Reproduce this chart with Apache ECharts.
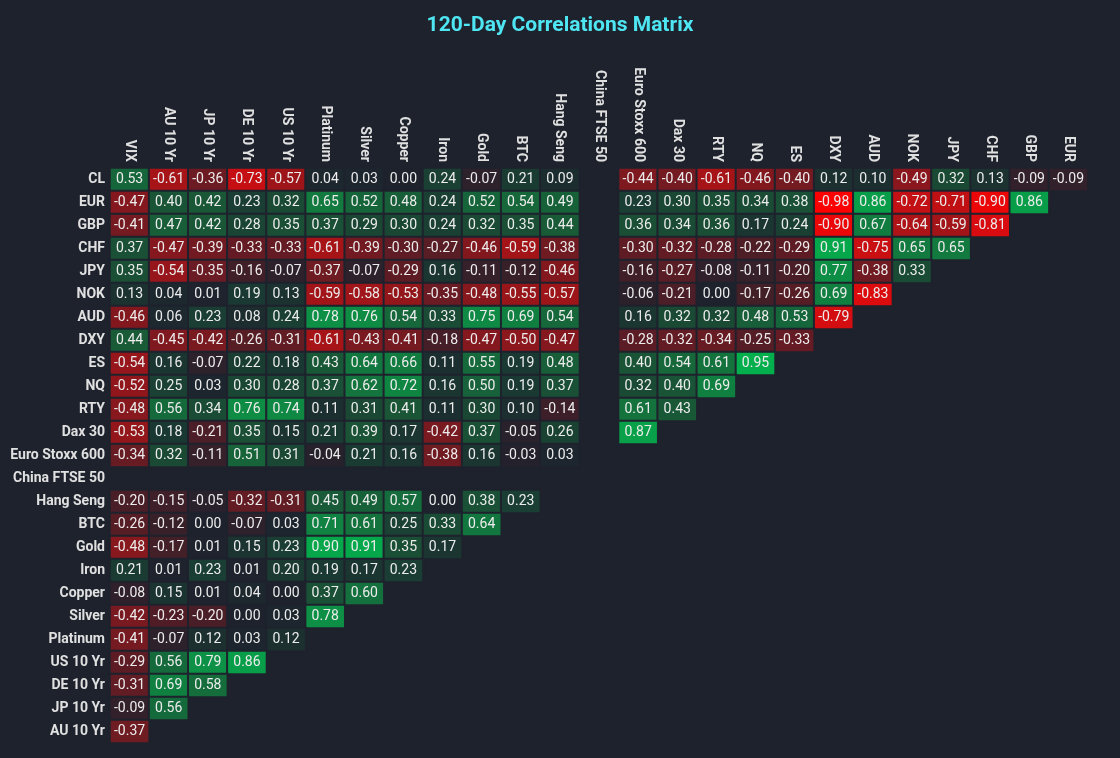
<!DOCTYPE html>
<html>
<head>
<meta charset="utf-8">
<title>120-Day Correlations Matrix</title>
<script src="https://cdn.jsdelivr.net/npm/echarts@6/dist/echarts.min.js"></script>
<style>
  html, body { margin: 0; padding: 0; background: #1e222d; }
  #chart { width: 1120px; height: 758px; }
</style>
</head>
<body>
<div id="chart"></div>
<script>
// columns, left to right
const columns = ['VIX', 'AU 10 Yr', 'JP 10 Yr', 'DE 10 Yr', 'US 10 Yr', 'Platinum', 'Silver',
  'Copper', 'Iron', 'Gold', 'BTC', 'Hang Seng', 'China FTSE 50', 'Euro Stoxx 600', 'Dax 30',
  'RTY', 'NQ', 'ES', 'DXY', 'AUD', 'NOK', 'JPY', 'CHF', 'GBP', 'EUR'];

// rows, top to bottom
const rows = ['CL', 'EUR', 'GBP', 'CHF', 'JPY', 'NOK', 'AUD', 'DXY', 'ES', 'NQ', 'RTY', 'Dax 30',
  'Euro Stoxx 600', 'China FTSE 50', 'Hang Seng', 'BTC', 'Gold', 'Iron', 'Copper', 'Silver',
  'Platinum', 'US 10 Yr', 'DE 10 Yr', 'JP 10 Yr', 'AU 10 Yr'];

// one array per row, in column order (null = blank cell)
const cl = [0.53, -0.61, -0.36, -0.73, -0.57, 0.04, 0.03, 0.00, 0.24, -0.07, 0.21, 0.09, null, -0.44, -0.40, -0.61, -0.46, -0.40, 0.12, 0.10, -0.49, 0.32, 0.13, -0.09, -0.09];
const eur = [-0.47, 0.40, 0.42, 0.23, 0.32, 0.65, 0.52, 0.48, 0.24, 0.52, 0.54, 0.49, null, 0.23, 0.30, 0.35, 0.34, 0.38, -0.98, 0.86, -0.72, -0.71, -0.90, 0.86];
const gbp = [-0.41, 0.47, 0.42, 0.28, 0.35, 0.37, 0.29, 0.30, 0.24, 0.32, 0.35, 0.44, null, 0.36, 0.34, 0.36, 0.17, 0.24, -0.90, 0.67, -0.64, -0.59, -0.81];
const chf = [0.37, -0.47, -0.39, -0.33, -0.33, -0.61, -0.39, -0.30, -0.27, -0.46, -0.59, -0.38, null, -0.30, -0.32, -0.28, -0.22, -0.29, 0.91, -0.75, 0.65, 0.65];
const jpy = [0.35, -0.54, -0.35, -0.16, -0.07, -0.37, -0.07, -0.29, 0.16, -0.11, -0.12, -0.46, null, -0.16, -0.27, -0.08, -0.11, -0.20, 0.77, -0.38, 0.33];
const nok = [0.13, 0.04, 0.01, 0.19, 0.13, -0.59, -0.58, -0.53, -0.35, -0.48, -0.55, -0.57, null, -0.06, -0.21, 0.00, -0.17, -0.26, 0.69, -0.83];
const aud = [-0.46, 0.06, 0.23, 0.08, 0.24, 0.78, 0.76, 0.54, 0.33, 0.75, 0.69, 0.54, null, 0.16, 0.32, 0.32, 0.48, 0.53, -0.79];
const dxy = [0.44, -0.45, -0.42, -0.26, -0.31, -0.61, -0.43, -0.41, -0.18, -0.47, -0.50, -0.47, null, -0.28, -0.32, -0.34, -0.25, -0.33];
const es = [-0.54, 0.16, -0.07, 0.22, 0.18, 0.43, 0.64, 0.66, 0.11, 0.55, 0.19, 0.48, null, 0.40, 0.54, 0.61, 0.95];
const nq = [-0.52, 0.25, 0.03, 0.30, 0.28, 0.37, 0.62, 0.72, 0.16, 0.50, 0.19, 0.37, null, 0.32, 0.40, 0.69];
const rty = [-0.48, 0.56, 0.34, 0.76, 0.74, 0.11, 0.31, 0.41, 0.11, 0.30, 0.10, -0.14, null, 0.61, 0.43];
const dax = [-0.53, 0.18, -0.21, 0.35, 0.15, 0.21, 0.39, 0.17, -0.42, 0.37, -0.05, 0.26, null, 0.87];
const stoxx = [-0.34, 0.32, -0.11, 0.51, 0.31, -0.04, 0.21, 0.16, -0.38, 0.16, -0.03, 0.03];
const ftse = [];
const hangSeng = [-0.20, -0.15, -0.05, -0.32, -0.31, 0.45, 0.49, 0.57, 0.00, 0.38, 0.23];
const btc = [-0.26, -0.12, 0.00, -0.07, 0.03, 0.71, 0.61, 0.25, 0.33, 0.64];
const gold = [-0.48, -0.17, 0.01, 0.15, 0.23, 0.90, 0.91, 0.35, 0.17];
const iron = [0.21, 0.01, 0.23, 0.01, 0.20, 0.19, 0.17, 0.23];
const copper = [-0.08, 0.15, 0.01, 0.04, 0.00, 0.37, 0.60];
const silver = [-0.42, -0.23, -0.20, 0.00, 0.03, 0.78];
const platinum = [-0.41, -0.07, 0.12, 0.03, 0.12];
const us10 = [-0.29, 0.56, 0.79, 0.86];
const de10 = [-0.31, 0.69, 0.58];
const jp10 = [-0.09, 0.56];
const au10 = [-0.37];

const rowValues = [cl, eur, gbp, chf, jpy, nok, aud, dxy, es, nq, rty, dax, stoxx, ftse,
  hangSeng, btc, gold, iron, copper, silver, platinum, us10, de10, jp10, au10];

// red -> background -> green, stops at -1, -0.8, ... 1
const scaleColors = ['#ff0000', '#d60d11', '#a41418', '#741a21', '#4a1e27', '#1e222d',
  '#1a3a32', '#1a5436', '#14703d', '#0c9346', '#00b84f'];

const data = [];
rowValues.forEach((vals, r) => {
  vals.forEach((v, c) => {
    if (v !== null) data.push([c, r, v]);
  });
});

const labelFont = "Roboto, 'Liberation Sans', sans-serif";

const chart = echarts.init(document.getElementById('chart'));
chart.setOption({
  backgroundColor: '#1e222d',
  animation: false,
  title: {
    text: '120-Day Correlations Matrix',
    left: 'center',
    top: 10,
    textStyle: { color: '#4fe6f3', fontSize: 21, fontWeight: 'bold', fontFamily: 'Roboto, sans-serif' }
  },
  grid: { left: 110, top: 168, width: 978, height: 575, outerBoundsMode: 'none', containLabel: false },
  xAxis: {
    type: 'category',
    data: columns,
    position: 'top',
    axisLine: { show: false },
    axisTick: { show: false },
    splitLine: { show: false },
    axisLabel: {
      interval: 0,
      rotate: 90,
      margin: 6,
      color: '#e0e0e0',
      fontSize: 14,
      fontWeight: 'bold',
      fontFamily: labelFont
    }
  },
  yAxis: {
    type: 'category',
    data: rows,
    inverse: true,
    axisLine: { show: false },
    axisTick: { show: false },
    splitLine: { show: false },
    axisLabel: {
      interval: 0,
      margin: 5,
      color: '#e0e0e0',
      fontSize: 14,
      fontWeight: 'bold',
      fontFamily: labelFont
    }
  },
  visualMap: {
    show: false,
    min: -1,
    max: 1,
    dimension: 2,
    inRange: { color: scaleColors }
  },
  series: [{
    type: 'heatmap',
    data: data,
    itemStyle: { borderColor: '#1e222d', borderWidth: 2 },
    label: {
      show: true,
      color: '#ececec',
      fontSize: 14,
      fontFamily: labelFont,
      formatter: p => p.value[2].toFixed(2)
    },
    emphasis: { disabled: true }
  }]
});
</script>
</body>
</html>
